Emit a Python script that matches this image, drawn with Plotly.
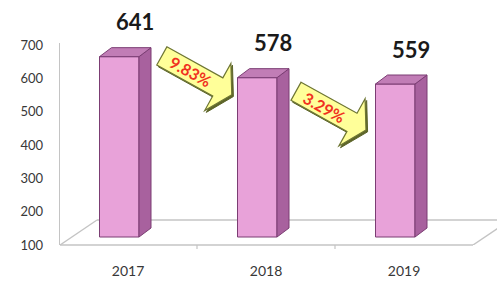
import math
import plotly.graph_objects as go

# ---------------- data ----------------
years = ["2017", "2018", "2019"]
year_pos = [2017, 2018, 2019]
values = [641, 578, 559]
changes = ["9.83%", "3.29%"]
y_ticks = [100, 200, 300, 400, 500, 600, 700]

# ---------------- layout constants ----------------
W, H = 497, 285
ML, MR, MT, MB = 60, 0, 43, 40
PX_X = 138.0          # pixels per category step
UNIT_PER_PX_Y = 3.0   # value units per pixel
plot_w = W - ML - MR
plot_h = H - MT - MB
x0 = year_pos[0] - 68 / PX_X
x1 = x0 + plot_w / PX_X
y_lo = y_ticks[0]
y_hi = y_lo + plot_h * UNIT_PER_PX_Y
depth_shift = 8  # bars sit slightly behind the front edge
y2_lo = y_lo - depth_shift * UNIT_PER_PX_Y
y2_hi = y2_lo + plot_h * UNIT_PER_PX_Y


def ux(px):
    return px / PX_X


def uy(px):
    return px * UNIT_PER_PX_Y


FRONT = "#E8A2D9"
SIDE = "#A8619E"
TOP = "#C17DB6"
EDGE = "#7B3D73"

bar_off = ux(-28.5)
bar_w = ux(39.5)
dx = ux(12)
dy = uy(9)
base = y_lo

fig = go.Figure()

# front faces
fig.add_trace(go.Bar(
    x=year_pos, y=[v - base for v in values], base=base,
    width=bar_w, offset=bar_off, yaxis="y2",
    marker=dict(color=FRONT, line=dict(color=EDGE, width=1)),
    cliponaxis=False, showlegend=False, hoverinfo="skip"))

# side and top faces
for xp, v in zip(year_pos, values):
    xl = xp + bar_off
    xr = xl + bar_w
    fig.add_trace(go.Scatter(
        x=[xr, xr + dx, xr + dx, xr, xr],
        y=[base, base + dy, v + dy, v, base],
        yaxis="y2", mode="lines", fill="toself", fillcolor=SIDE,
        line=dict(color=EDGE, width=1), cliponaxis=False,
        showlegend=False, hoverinfo="skip"))
    fig.add_trace(go.Scatter(
        x=[xl, xl + dx, xr + dx, xr, xl],
        y=[v, v + dy, v + dy, v, v],
        yaxis="y2", mode="lines", fill="toself", fillcolor=TOP,
        line=dict(color=EDGE, width=1), cliponaxis=False,
        showlegend=False, hoverinfo="skip"))

shapes = []
FLOOR = "#C4C4C4"
back_y = y_lo + uy(25)
x_front_end = x0 + ux(413)
# floor outline
shapes.append(dict(type="line", xref="x", yref="paper", x0=x0, x1=x_front_end,
                   y0=0, y1=0, line=dict(color=FLOOR, width=1.4), layer="below"))
shapes.append(dict(type="line", xref="x", yref="y", x0=x0 + ux(37), x1=x1 + 1,
                   y0=back_y, y1=back_y, line=dict(color=FLOOR, width=1.4), layer="below"))
shapes.append(dict(type="line", xref="x", yref="y", x0=x0, x1=x0 + ux(37),
                   y0=y_lo, y1=back_y, line=dict(color=FLOOR, width=1.4), layer="below"))
shapes.append(dict(type="line", xref="x", yref="y", x0=x_front_end, x1=x_front_end + ux(37),
                   y0=y_lo, y1=back_y, line=dict(color=FLOOR, width=1.4), layer="below"))
for i in range(len(year_pos) - 1):
    xm = (year_pos[i] + year_pos[i + 1]) / 2
    shapes.append(dict(type="line", xref="x", yref="paper", x0=xm, x1=xm,
                       y0=0, y1=-4 / plot_h, line=dict(color=FLOOR, width=1.2)))

# arrows between bars
ang = math.radians(29)
ca, sa = math.cos(ang), math.sin(ang)
arrow_local = [(0, -10.4), (64, -10.4), (64, -27), (80, 0), (64, 27), (64, 10.4), (0, 10.4)]
arrow_centers = [((year_pos[0] + year_pos[1]) / 2 - ux(0.2), 609),
                 ((year_pos[1] + year_pos[2]) / 2 - ux(4), 503)]


def arrow_path(cx, cy, sx=0.0, sy=0.0):
    pts = []
    for al, ac in arrow_local:
        al -= 40
        ox = al * ca - ac * sa + sx
        oy = al * sa + ac * ca + sy
        pts.append((cx + ux(ox), cy - uy(oy)))
    return "M " + " L ".join(f"{a:.5f},{b:.3f}" for a, b in pts) + " Z"


annotations = []
for (cx, cy), txt in zip(arrow_centers, changes):
    shapes.append(dict(type="path", xref="x", yref="y", path=arrow_path(cx, cy, 1.6, 1.8),
                       fillcolor="#5C6428", line=dict(color="#5C6428", width=1), layer="above"))
    shapes.append(dict(type="path", xref="x", yref="y", path=arrow_path(cx, cy),
                       fillcolor="#FFFF99", line=dict(color="#6E7634", width=1.2), layer="above"))
    tx = cx + ux(-7 * ca)
    ty = cy - uy(-7 * sa)
    annotations.append(dict(x=tx, y=ty, xref="x", yref="y", text=f"<b>{txt}</b>",
                            showarrow=False, textangle=29,
                            font=dict(family="Lato", size=16, color="#F0321F")))

for xp, v in zip(year_pos, values):
    annotations.append(dict(x=xp + ux(7), y=v, xref="x", yref="y2", yshift=35,
                            text=f"<b>{v}</b>", showarrow=False,
                            font=dict(family="Lato", size=22, color="#1a1a1a")))

fig.update_layout(
    width=W, height=H,
    margin=dict(l=ML, r=MR, t=MT, b=MB, pad=0, autoexpand=False),
    paper_bgcolor="white", plot_bgcolor="white",
    bargap=0, showlegend=False,
    font=dict(family="Lato", color="#404040"),
    xaxis=dict(range=[x0, x1], tickvals=year_pos, ticktext=years, automargin=False,
               showgrid=False, zeroline=False, showline=False, ticks="",
               ticklabelstandoff=16, tickfont=dict(size=14, color="#383838"),
               fixedrange=True),
    yaxis=dict(range=[y_lo, y_hi], tickvals=y_ticks, showgrid=False, zeroline=False,
               automargin=False,
               showline=True, linecolor="#C4C4C4", linewidth=1.4, ticks="",
               ticklabelstandoff=13, tickfont=dict(size=13, color="#383838"),
               fixedrange=True),
    yaxis2=dict(range=[y2_lo, y2_hi], overlaying="y", visible=False, fixedrange=True,
                automargin=False),
    shapes=shapes, annotations=annotations,
)

fig.write_html(
    "out.html",
    config={"displayModeBar": False, "staticPlot": True},
    post_script="document.body.style.margin='0';document.body.style.padding='0';"
                "document.body.style.overflow='hidden';",
)
